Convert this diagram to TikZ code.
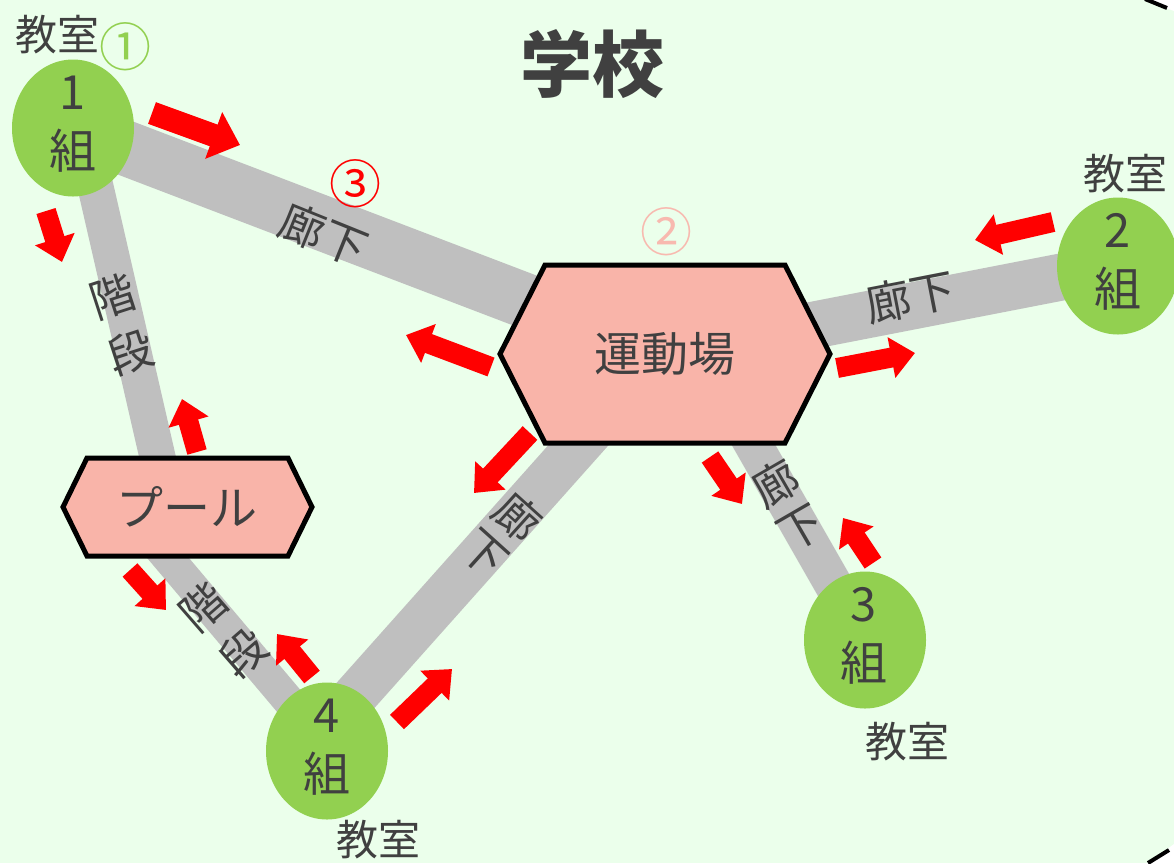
\documentclass[tikz,border=0pt]{standalone}
\usepackage{fontspec}
\setmainfont{Noto Sans CJK JP}
\usetikzlibrary{shapes.geometric,arrows.meta}
\definecolor{bgc}{RGB}{235,255,235}
\definecolor{grn}{RGB}{146,208,80}
\definecolor{pnk}{RGB}{249,180,169}
\definecolor{txt}{RGB}{64,64,64}
\definecolor{bandc}{RGB}{191,191,191}
\definecolor{circtwo}{RGB}{248,185,175}
\pgfdeclarelayer{back}
\pgfsetlayers{back,main}
\tikzset{
  room/.style={ellipse, fill=grn, minimum width=122pt, minimum height=137pt, inner sep=0pt},
  roomtxt/.style={text=txt, align=center, inner sep=0pt, font=\fontsize{47}{59}\selectfont},
  kyotxt/.style={text=txt, inner sep=0pt, font=\fontsize{42}{50}\selectfont},
  circnum/.style={inner sep=0pt, font=\fontsize{52}{60}\selectfont},
  bandw/.style={draw=bandc, line width=#1},
  bandtxt/.style={text=txt, align=center, inner sep=0pt, font=\fontsize{45}{#1}\selectfont},
  hexa/.style={fill=pnk, draw=black, line width=5pt, line join=miter},
  hextxt/.style={text=txt, inner sep=0pt, font=\fontsize{47}{55}\selectfont},
  flow/.style={draw=red, line width=20pt, -{Triangle[width=40pt,length=24pt]}},
  bigflow/.style={draw=red, line width=23pt, -{Triangle[width=48pt,length=28pt]}},
}
\begin{document}
\begin{tikzpicture}[x=1pt,y=-1pt]
\useasboundingbox (0,0) rectangle (1174,863);

% centres
\coordinate (fieldc) at (665,354);
\coordinate (poolc) at (187,507);

% hexagons
\draw[hexa] (fieldc) ++(-165,0) -- ++(45,-89) -- ++(240,0) -- ++(45,89) -- ++(-45,89) -- ++(-240,0) -- cycle;
\node[hextxt] (field) at (fieldc) {運動場};
\draw[hexa] (poolc) ++(-124,0) -- ++(24,-49) -- ++(201,0) -- ++(24,49) -- ++(-24,49) -- ++(-201,0) -- cycle;
\node[hextxt] (pool) at (poolc) {プール};

% classrooms
\node[room] (g1) at (73,128) {};
\node[room] (g2) at (1118,266) {};
\node[room] (g3) at (865,640) {};
\node[room] (g4) at (327,751) {};
\node[roomtxt] (g1t) at (73,124) {1\\組};
\node[roomtxt] (g2t) at (1118,262) {2\\組};
\node[roomtxt] (g3t) at (864,636) {3\\組};
\node[roomtxt] (g4t) at (327,747) {4\\組};
\node[kyotxt] (k1) at (57,35) {教室};
\node[kyotxt] (k2) at (1125,174) {教室};
\node[kyotxt] (k3) at (907,742) {教室};
\node[kyotxt] (k4) at (378,840) {教室};

% title and numbers
\node[text=txt, inner sep=0pt, font=\fontsize{72}{80}\selectfont\bfseries] (title) at (592,64) {学校};
\node[circnum, text=grn] (n1) at (125,47) {①};
\node[circnum, text=circtwo] (n2) at (666,232) {②};
\node[circnum, text=red] (n3) at (355,184) {③};

% band end points
\coordinate (s1a) at (82,128);
\coordinate (s1b) at (169,507);
\coordinate (s2a) at (125,507);
\coordinate (s2b) at (331,751);
\coordinate (b3a) at (745,430);
\coordinate (b4a) at (306,751);
\coordinate (b4b) at (600,421);

\begin{pgfonlayer}{back}
\fill[bgc] (0,0) rectangle (1174,863);
\draw[bandw=55pt] (g1.center) -- (field.center);
\draw[bandw=47pt] (g2.center) -- (field.center);
\draw[bandw=38pt] (g3.center) -- (b3a);
\draw[bandw=45pt] (b4a) -- (b4b);
\draw[bandw=36pt] (s1a) -- (s1b);
\draw[bandw=32pt] (s2a) -- (s2b);
\end{pgfonlayer}

% band labels
\node[bandtxt=55pt, rotate=-22] (l1) at (324,235) {廊下};
\node[bandtxt=55pt, rotate=11] (l2) at (910,297) {廊下};
\node[bandtxt=51pt, rotate=30] (l3) at (788,505) {廊\\下};
\node[bandtxt=49pt, rotate=-42] (l4) at (501,535) {廊\\下};
\node[bandtxt=59pt, rotate=18] (l5) at (122,325) {階\\段};
\node[bandtxt=61pt, rotate=41] (l6) at (223,630) {階\\段};

% flow arrows
\coordinate (a1t) at (152,113); \coordinate (a1h) at (240,145);
\coordinate (a2t) at (46,211);  \coordinate (a2h) at (62,262);
\coordinate (a3t) at (491,367); \coordinate (a3h) at (406,335);
\coordinate (a4t) at (837,368); \coordinate (a4h) at (915,353);
\coordinate (a5t) at (1053,222); \coordinate (a5h) at (975,240);
\coordinate (a6t) at (530,433); \coordinate (a6h) at (474,493);
\coordinate (a7t) at (710,457); \coordinate (a7h) at (742,504);
\coordinate (a8t) at (873,563); \coordinate (a8h) at (843,518);
\coordinate (a9t) at (197,452); \coordinate (a9h) at (182,399);
\coordinate (a10t) at (130,570); \coordinate (a10h) at (166,610);
\coordinate (a11t) at (312,677); \coordinate (a11h) at (277,634);
\coordinate (a12t) at (397,722); \coordinate (a12h) at (452,669);
\draw[bigflow] (a1t) -- (a1h);
\foreach \i in {2,...,12} {\draw[flow] (a\i t) -- (a\i h);}

% frame corners
\fill[white] (1144,0) -- (1174,0) -- (1174,11) -- cycle;
\draw[black, line width=4pt] (1145,-1) -- (1167,8);
\fill[white] (1148,863) -- (1174,844) -- (1174,863) -- cycle;
\draw[black, line width=4pt] (1148,863) -- (1169,850);
\end{tikzpicture}
\end{document}
